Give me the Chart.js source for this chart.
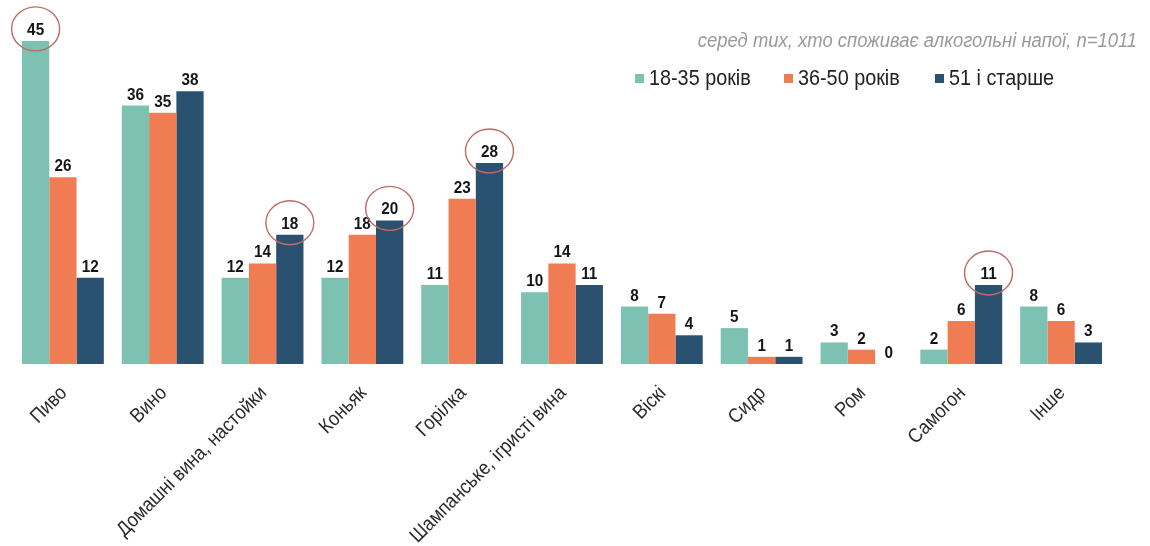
<!DOCTYPE html>
<html lang="uk">
<head>
<meta charset="utf-8">
<title>Вживання алкогольних напоїв за віком</title>
<script src="https://cdn.jsdelivr.net/npm/chart.js@4.4.1/dist/chart.umd.min.js"></script>
<style>
  body { margin: 0; background: #fff; }
  #wrap { position: relative; width: 1150px; height: 546px; font-family: "Liberation Sans", Arial, sans-serif; }
  .narrow { position: absolute; white-space: nowrap; transform: scaleX(0.9); }
  #note {
    right: 13px; top: 28px; transform-origin: right top;
    font-style: italic; font-size: 20.5px; color: #9a9a9a;
  }
  .key { position: absolute; width: 9px; height: 9px; top: 74px; }
  .keytext { top: 65px; font-size: 22px; color: #222; transform-origin: left top; }
</style>
</head>
<body>
<div id="wrap">
  <canvas id="drinks" width="1150" height="546"></canvas>
  <div id="note" class="narrow">серед тих, хто споживає алкогольні напої, n=1011</div>
</div>
<script>
// categories and values (%)
var drinks = ["Пиво", "Вино", "Домашні вина, настойки", "Коньяк", "Горілка",
  "Шампанське, ігристі вина", "Віскі", "Сидр", "Ром", "Самогон", "Інше"];
var age18to35 = [45, 36, 12, 12, 11, 10, 8, 5, 3, 2, 8];
var age36to50 = [26, 35, 14, 18, 23, 14, 7, 1, 2, 6, 6];
var age51plus = [12, 38, 18, 20, 28, 11, 4, 1, 0, 11, 3];
var seriesNames = ["18-35 років", "36-50 років", "51 і старше"];
var seriesColors = ["#7cc1b1", "#f07c54", "#2a5270"];

// [series, category] of values drawn with a circle round them
var circled = [[0, 0], [2, 2], [2, 3], [2, 4], [2, 9]];

// legend in the top right corner
var wrap = document.getElementById("wrap");
var keyLeft = [635, 784, 935];
seriesNames.forEach(function (name, i) {
  var box = document.createElement("div");
  box.className = "key";
  box.style.left = keyLeft[i] + "px";
  box.style.background = seriesColors[i];
  wrap.appendChild(box);
  var txt = document.createElement("div");
  txt.className = "narrow keytext";
  txt.style.left = (keyLeft[i] + 14) + "px";
  txt.textContent = name;
  wrap.appendChild(txt);
});

var FONT = '"Liberation Sans", Arial, sans-serif';

var labelsPlugin = {
  id: "barValues",
  afterDatasetsDraw: function (chart) {
    var ctx = chart.ctx;
    ctx.save();
    ctx.font = "bold 17px " + FONT;
    ctx.fillStyle = "#151515";
    ctx.textAlign = "center";
    ctx.textBaseline = "alphabetic";
    chart.data.datasets.forEach(function (ds, di) {
      chart.getDatasetMeta(di).data.forEach(function (bar, i) {
        ctx.save();
        ctx.translate(bar.x, bar.y - 6);
        ctx.scale(0.9, 1);
        ctx.fillText(ds.data[i], 0, 0);
        ctx.restore();
      });
    });
    ctx.strokeStyle = "#bf6a64";
    ctx.lineWidth = 1.4;
    circled.forEach(function (c) {
      var bar = chart.getDatasetMeta(c[0]).data[c[1]];
      ctx.beginPath();
      ctx.ellipse(bar.x, bar.y - 12, 24, 22, 0, 0, Math.PI * 2);
      ctx.stroke();
    });
    ctx.restore();
  },
  afterDraw: function (chart) {
    // slanted category names under the bars
    var ctx = chart.ctx;
    var xs = chart.scales.x;
    ctx.save();
    ctx.font = "20px " + FONT;
    ctx.fillStyle = "#2a2a2a";
    ctx.textAlign = "right";
    ctx.textBaseline = "alphabetic";
    chart.data.labels.forEach(function (name, i) {
      ctx.save();
      ctx.translate(xs.getPixelForTick(i) + 5, xs.top + 30);
      ctx.rotate(-Math.PI / 4);
      ctx.scale(0.9, 1);
      ctx.fillText(name, 0, 0);
      ctx.restore();
    });
    ctx.restore();
  }
};

new Chart(document.getElementById("drinks"), {
  type: "bar",
  data: {
    labels: drinks,
    datasets: [
      { label: seriesNames[0], data: age18to35, backgroundColor: seriesColors[0] },
      { label: seriesNames[1], data: age36to50, backgroundColor: seriesColors[1] },
      { label: seriesNames[2], data: age51plus, backgroundColor: seriesColors[2] }
    ]
  },
  options: {
    responsive: false,
    animation: false,
    layout: { padding: { left: 13, right: 39, top: 5, bottom: 0 } },
    categoryPercentage: 0.82,
    barPercentage: 1,
    plugins: { legend: { display: false }, tooltip: { enabled: false } },
    scales: {
      y: { display: false, min: 0, max: 50 },
      x: {
        grid: { display: false },
        border: { display: false },
        ticks: { display: false },
        afterFit: function (scale) { scale.height = 182; }
      }
    }
  },
  plugins: [labelsPlugin]
});
</script>
</body>
</html>
